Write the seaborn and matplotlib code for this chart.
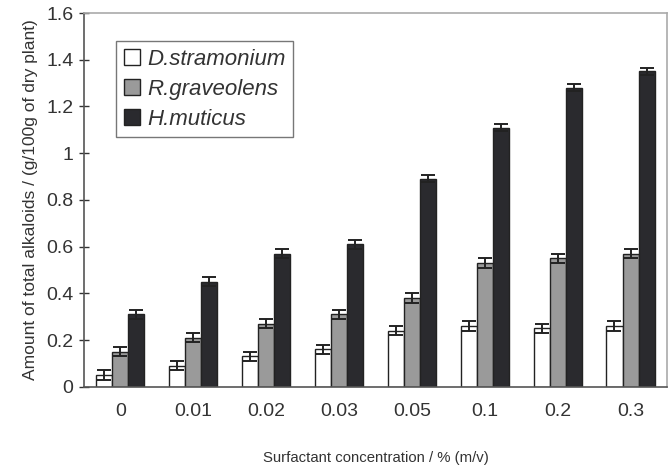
import numpy as np
import pandas as pd
import seaborn as sns
from matplotlib import pyplot as plt

concentrations = ['0', '0.01', '0.02', '0.03', '0.05', '0.1', '0.2', '0.3']
species = ['D.stramonium', 'R.graveolens', 'H.muticus']
d_stramonium = [0.05, 0.09, 0.13, 0.16, 0.24, 0.26, 0.25, 0.26]
r_graveolens = [0.15, 0.21, 0.27, 0.31, 0.38, 0.53, 0.55, 0.57]
h_muticus = [0.31, 0.45, 0.57, 0.61, 0.89, 1.11, 1.28, 1.35]
d_err = [0.02, 0.02, 0.02, 0.02, 0.02, 0.02, 0.02, 0.02]
r_err = [0.02, 0.02, 0.02, 0.02, 0.02, 0.02, 0.02, 0.02]
h_err = [0.02, 0.02, 0.02, 0.02, 0.015, 0.015, 0.015, 0.015]

df = pd.DataFrame({
    'conc': concentrations * 3,
    'species': np.repeat(species, len(concentrations)),
    'value': d_stramonium + r_graveolens + h_muticus,
    'err': d_err + r_err + h_err,
})

sns.set_style('white')
plt.rcParams['font.family'] = ['Liberation Sans', 'DejaVu Sans']

colors = ['#ffffff', '#9a9a9a', '#2a2a2e']
fig, ax = plt.subplots(figsize=(6.71, 4.66), dpi=100)
fig.subplots_adjust(left=0.125, right=0.994, top=0.972, bottom=0.17)

sns.barplot(data=df, x='conc', y='value', hue='species', order=concentrations,
            hue_order=species, palette=colors, errorbar=None, width=0.66,
            edgecolor='#222222', linewidth=1.0, saturation=1, ax=ax)

# error bars on the bar centres
for cont, sp in zip(ax.containers, species):
    sub = df[df['species'] == sp].set_index('conc').loc[concentrations]
    xs = [p.get_x() + p.get_width() / 2 for p in cont.patches]
    ax.errorbar(xs, sub['value'], yerr=sub['err'], fmt='none', ecolor='#222222',
                elinewidth=1.4, capsize=5, capthick=1.4)

ax.set_ylim(0, 1.6)
ax.set_xlim(-0.5, len(concentrations) - 0.5)
ax.set_yticks(np.arange(0, 1.61, 0.2))
ax.set_yticklabels(['0', '0.2', '0.4', '0.6', '0.8', '1', '1.2', '1.4', '1.6'])
ax.set_xticks(np.arange(len(concentrations)))
ax.set_xticklabels(concentrations)
ax.set_xticks(np.arange(-0.5, len(concentrations)), minor=True)
ax.tick_params(axis='x', which='major', length=0, pad=12, labelsize=14, colors='#333333')
ax.tick_params(axis='x', which='minor', length=8, width=1, color='#333333', direction='inout')
ax.tick_params(axis='y', length=7, width=1, color='#333333', direction='inout',
               labelsize=14, labelcolor='#333333', left=True, pad=4)

for side, s in ax.spines.items():
    s.set_color('#555555' if side in ('left', 'bottom') else '#aaaaaa')
    s.set_linewidth(1.2)

ax.set_xlabel('Surfactant concentration / % (m/v)', fontsize=10.7, color='#333333', labelpad=22)
ax.set_ylabel('Amount of total alkaloids / (g/100g of dry plant)', fontsize=12.5,
              color='#333333', labelpad=6)

leg = ax.legend(loc='upper left', bbox_to_anchor=(0.055, 0.925), frameon=True,
                fancybox=False, edgecolor='#555555', fontsize=16, handlelength=0.75,
                handleheight=0.75, handletextpad=0.3, borderpad=0.35, labelspacing=0.4,
                borderaxespad=0)
for t in leg.get_texts():
    t.set_style('italic')
    t.set_color('#333333')
leg.get_frame().set_linewidth(1.0)

fig.savefig('out.png', dpi=100)
